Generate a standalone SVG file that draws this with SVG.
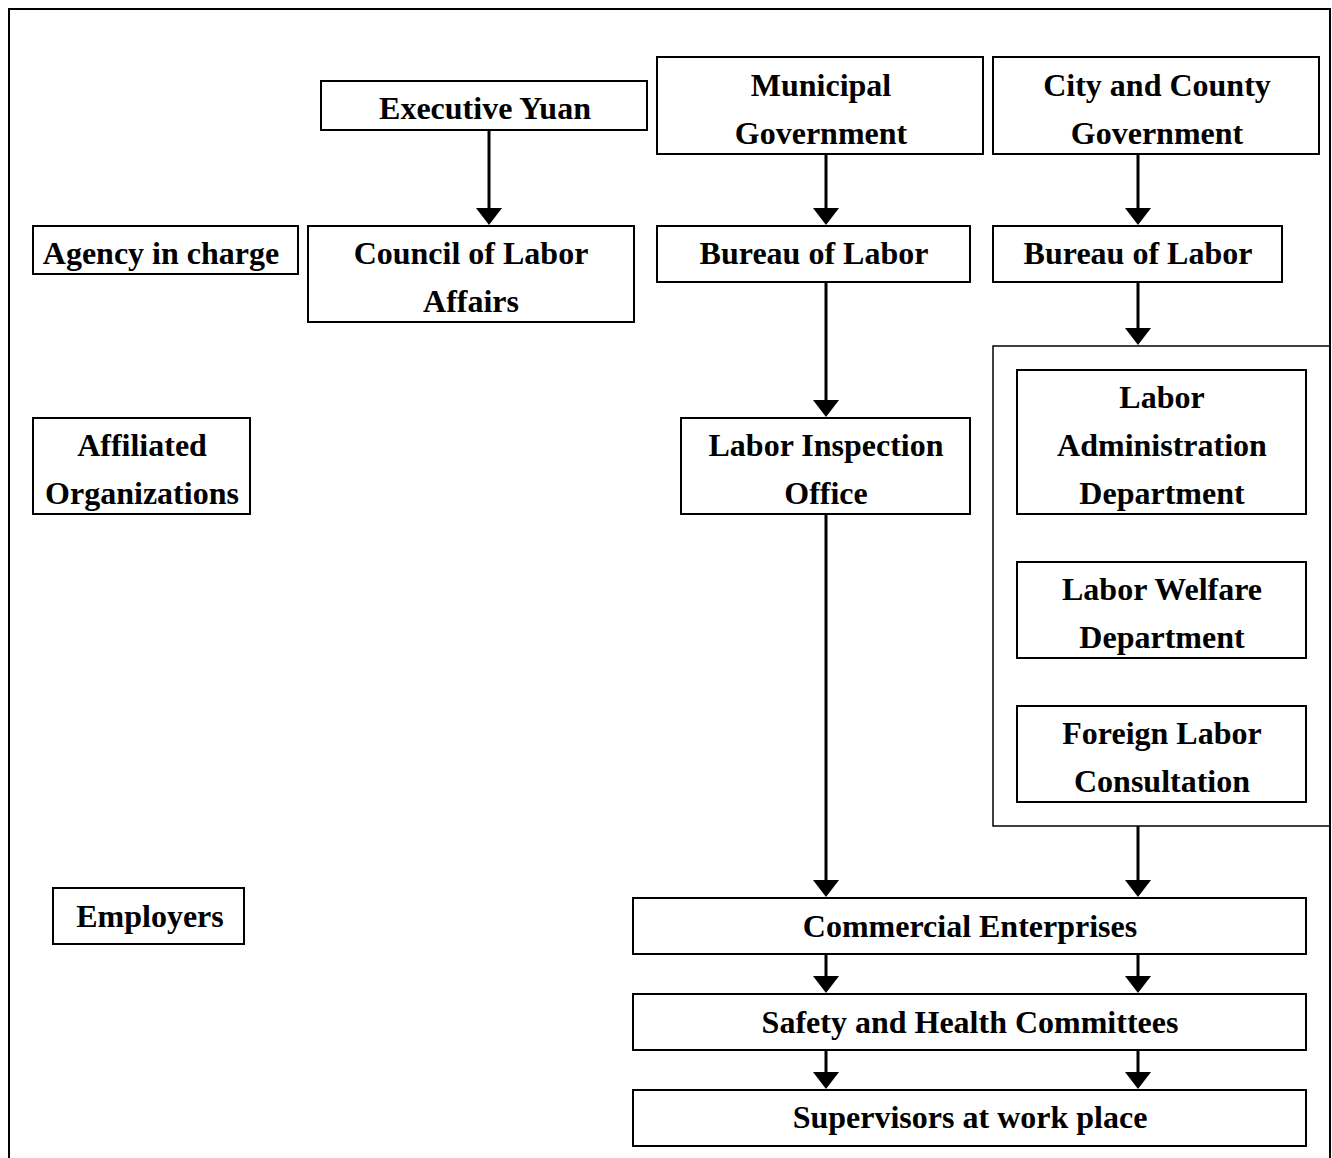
<svg xmlns="http://www.w3.org/2000/svg" width="1332" height="1158" viewBox="0 0 1332 1158" font-family="Liberation Serif, Times New Roman, serif" font-weight="bold" font-size="32">
<style>
.box{fill:#fff;stroke:#000;stroke-width:2}
.thin{fill:none;stroke:#000;stroke-width:1.5}
.t{text-anchor:middle;fill:#000}
.c{stroke:#000;stroke-width:3;fill:none}
</style>
<rect width="1332" height="1158" fill="#fff"/>
<path d="M9,1160 L9,9 L1330,9 L1330,1160" fill="none" stroke="#000" stroke-width="2"/>

<g id="connectors">
<line class="c" x1="489" y1="130" x2="489" y2="209"/><path d="M476,208 L502,208 L489,225 Z"/>
<line class="c" x1="826" y1="154" x2="826" y2="209"/><path d="M813,208 L839,208 L826,225 Z"/>
<line class="c" x1="1138" y1="154" x2="1138" y2="209"/><path d="M1125,208 L1151,208 L1138,225 Z"/>
<line class="c" x1="826" y1="272" x2="826" y2="401"/><path d="M813,400 L839,400 L826,417 Z"/>
<line class="c" x1="1138" y1="282" x2="1138" y2="329"/><path d="M1125,328 L1151,328 L1138,345 Z"/>
<line class="c" x1="826" y1="514" x2="826" y2="881"/><path d="M813,880 L839,880 L826,897 Z"/>
<line class="c" x1="1138" y1="826" x2="1138" y2="881"/><path d="M1125,880 L1151,880 L1138,897 Z"/>
<line class="c" x1="826" y1="944" x2="826" y2="977"/><path d="M813,976 L839,976 L826,993 Z"/>
<line class="c" x1="1138" y1="944" x2="1138" y2="977"/><path d="M1125,976 L1151,976 L1138,993 Z"/>
<line class="c" x1="826" y1="1040" x2="826" y2="1073"/><path d="M813,1072 L839,1072 L826,1089 Z"/>
<line class="c" x1="1138" y1="1040" x2="1138" y2="1073"/><path d="M1125,1072 L1151,1072 L1138,1089 Z"/>
</g>

<g id="exec-yuan"><rect class="box" x="321" y="81" width="326" height="49"/><text class="t" x="485" y="119">Executive Yuan</text></g>
<g id="municipal-gov"><rect class="box" x="657" y="57" width="326" height="97"/><text class="t" x="821" y="96">Municipal</text><text class="t" x="821" y="144">Government</text></g>
<g id="city-county-gov"><rect class="box" x="993" y="57" width="326" height="97"/><text class="t" x="1157" y="96">City and County</text><text class="t" x="1157" y="144">Government</text></g>
<g id="agency-label"><rect class="box" x="33" y="226" width="265" height="48"/><text class="t" x="161" y="264">Agency in charge</text></g>
<g id="council"><rect class="box" x="308" y="226" width="326" height="96"/><text class="t" x="471" y="264">Council of Labor</text><text class="t" x="471" y="312">Affairs</text></g>
<g id="bureau-muni"><rect class="box" x="657" y="226" width="313" height="56"/><text class="t" x="814" y="264">Bureau of Labor</text></g>
<g id="bureau-city"><rect class="box" x="993" y="226" width="289" height="56"/><text class="t" x="1138" y="264">Bureau of Labor</text></g>
<g id="dept-container"><rect class="thin" x="993" y="346" width="337" height="480"/></g>
<g id="labor-admin"><rect class="box" x="1017" y="370" width="289" height="144"/><text class="t" x="1162" y="408">Labor</text><text class="t" x="1162" y="456">Administration</text><text class="t" x="1162" y="504">Department</text></g>
<g id="labor-welfare"><rect class="box" x="1017" y="562" width="289" height="96"/><text class="t" x="1162" y="600">Labor Welfare</text><text class="t" x="1162" y="648">Department</text></g>
<g id="foreign-labor"><rect class="box" x="1017" y="706" width="289" height="96"/><text class="t" x="1162" y="744">Foreign Labor</text><text class="t" x="1162" y="792">Consultation</text></g>
<g id="affiliated-label"><rect class="box" x="33" y="418" width="217" height="96"/><text class="t" x="142" y="456">Affiliated</text><text class="t" x="142" y="504">Organizations</text></g>
<g id="inspection"><rect class="box" x="681" y="418" width="289" height="96"/><text class="t" x="826" y="456">Labor Inspection</text><text class="t" x="826" y="504">Office</text></g>
<g id="employers-label"><rect class="box" x="53" y="888" width="191" height="56"/><text class="t" x="150" y="927">Employers</text></g>
<g id="commercial"><rect class="box" x="633" y="898" width="673" height="56"/><text class="t" x="970" y="937">Commercial Enterprises</text></g>
<g id="safety"><rect class="box" x="633" y="994" width="673" height="56"/><text class="t" x="970" y="1033">Safety and Health Committees</text></g>
<g id="supervisors"><rect class="box" x="633" y="1090" width="673" height="56"/><text class="t" x="970" y="1128">Supervisors at work place</text></g>
</svg>
